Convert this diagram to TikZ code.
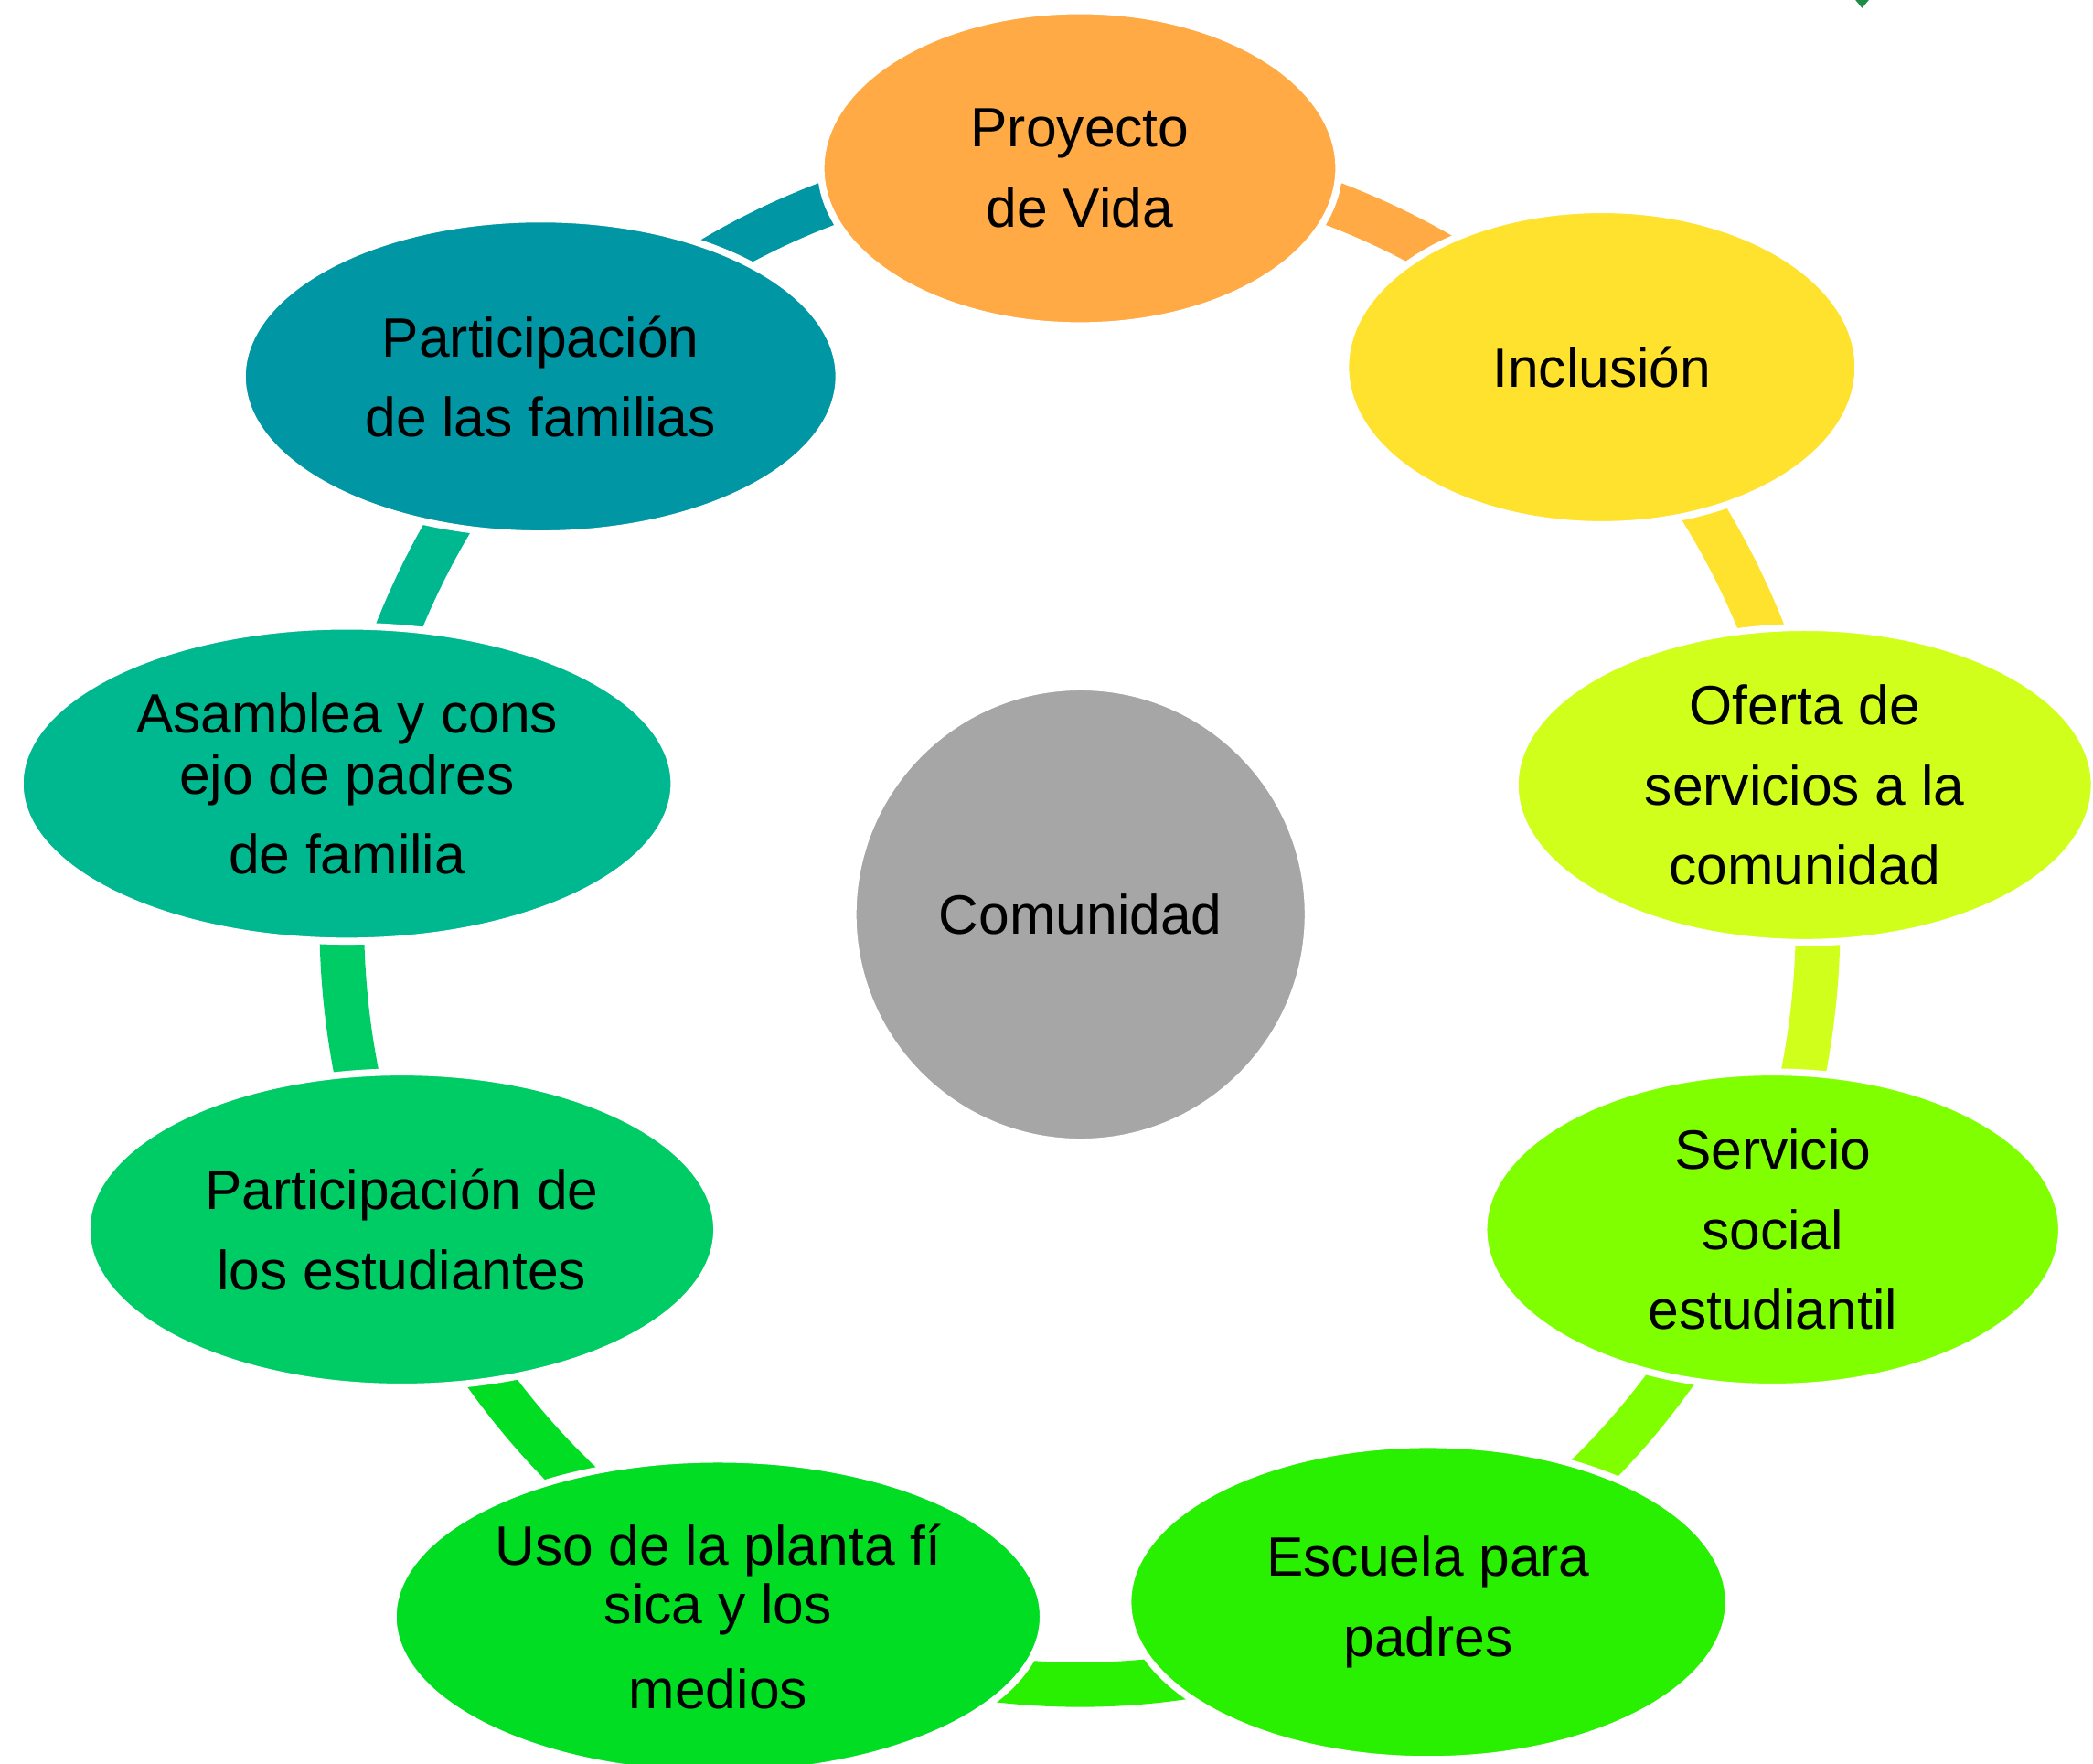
\documentclass[tikz,border=0pt]{standalone}
\usepackage{fontspec}
\setmainfont{Liberation Sans}
\usepackage{tikz}
\usetikzlibrary{shapes.geometric}

\definecolor{cProy}{HTML}{FFAA44}
\definecolor{cIncl}{HTML}{FFE22E}
\definecolor{cOfer}{HTML}{CFFF1A}
\definecolor{cServ}{HTML}{80FF00}
\definecolor{cEsc}{HTML}{28F000}
\definecolor{cUso}{HTML}{00DD22}
\definecolor{cEst}{HTML}{00CC66}
\definecolor{cAsam}{HTML}{00B890}
\definecolor{cFam}{HTML}{0096A4}
\definecolor{cCom}{HTML}{A6A6A6}
\definecolor{cMark}{HTML}{1E8C46}

\begin{document}
\begin{tikzpicture}[
	every node/.style={font=\fontsize{11.8}{17}\selectfont, align=center},
	item/.style={ellipse, draw=white, line width=1.5pt, inner sep=0pt, minimum height=2.36cm, minimum width=#1},
	ring/.style={line width=9.5pt}
]

\useasboundingbox (0,0) rectangle (15.68,-13.21);
\clip (0,0) rectangle (15.68,-13.21);

\coordinate (Ctr) at (8.09,-6.90);

% ring behind the ellipses
\foreach \a/\b/\c in {90/45.7/cProy, 45.7/10.3/cIncl, 10.3/-23.2/cOfer, -23.2/-62.1/cServ,
		-62.1/-118.3/cEsc, -118.3/-156.4/cUso, -156.4/-190.2/cEst, -190.2/-224.3/cAsam, -224.3/-270/cFam}
	\draw[ring, \c] (Ctr) ++(\a:5.53 and 5.72) arc[start angle=\a, end angle=\b, x radius=5.53, y radius=5.72];

\node[item=3.88cm, fill=cProy] (Proy) at (8.09,-1.26) {Proyecto\\de Vida};
\node[item=3.84cm, fill=cIncl] (Incl) at (12.00,-2.75) {Inclusión};
\node[item=4.34cm, fill=cOfer] (Ofer) at (13.52,-5.88) {Oferta de\\servicios a la\\comunidad};
\node[item=4.33cm, fill=cServ] (Serv) at (13.28,-9.21) {Servicio\\social\\estudiantil};
\node[item=4.50cm, fill=cEsc] (Esc) at (10.70,-12.00) {Escuela para\\padres};
\node[item=4.87cm, fill=cUso] (Uso) at (5.38,-12.11) {Uso de la planta fí\\[-4.5pt]sica y los\\[1pt]medios};
\node[item=4.72cm, fill=cEst] (Est) at (3.01,-9.21) {Participación de\\los estudiantes};
\node[item=4.90cm, fill=cAsam] (Asam) at (2.60,-5.87) {Asamblea y cons\\[-4pt]ejo de padres\\[0pt]de familia};
\node[item=4.47cm, fill=cFam] (Fam) at (4.05,-2.82) {Participación\\de las familias};

\node[circle, fill=cCom, draw=white, line width=1.5pt, inner sep=0pt, minimum size=3.41cm] (Com) at (8.095,-6.85) {Comunidad};

\fill[cMark] (13.90,0) -- (14.00,0) -- (13.95,-0.06) -- cycle;

\end{tikzpicture}
\end{document}
